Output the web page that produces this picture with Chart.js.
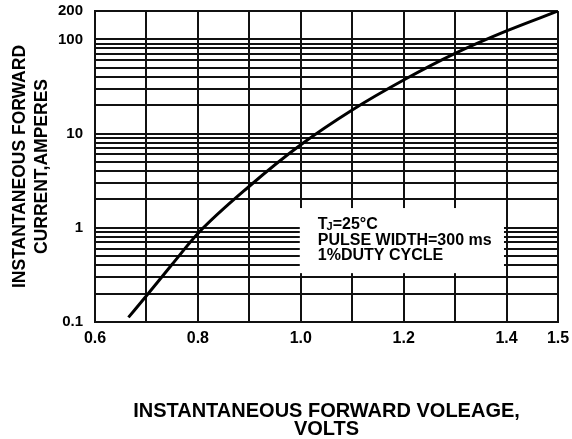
<!DOCTYPE html>
<html>
<head>
<meta charset="utf-8">
<style>
  html, body { margin: 0; padding: 0; background: #fff; }
  #wrap { width: 572px; height: 439px; }
</style>
<script src="https://cdn.jsdelivr.net/npm/chart.js@4/dist/chart.umd.min.js"></script>
</head>
<body>
<div id="wrap"><canvas id="c" width="572" height="439"></canvas></div>
<script>
// Forward characteristic: voltage (V) vs instantaneous current (A)
const voltage = [0.665, 0.7, 0.75, 0.8, 0.9, 1.0, 1.1, 1.2, 1.3, 1.4, 1.5];
const current = [0.112, 0.19, 0.41, 0.87, 2.76, 7.6, 17.8, 37, 71, 123, 200];

// Grid positions and the tick labels shown on each axis
const xGrid = [0.6, 0.7, 0.8, 0.9, 1.0, 1.1, 1.2, 1.3, 1.4, 1.5];
const xLabels = ['0.6', '0.8', '1.0', '1.2', '1.4', '1.5'];
const yGrid = [0.1, 0.2, 0.3, 0.4, 0.5, 0.6, 0.7, 0.8, 0.9,
               1, 2, 3, 4, 5, 6, 7, 8, 9,
               10, 20, 30, 40, 50, 60, 70, 80, 90,
               100, 200];
const yLabels = ['0.1', '1', '10', '100', '200'];

// Test conditions printed inside the plot
const noteLines = ['=25\u00B0C', 'PULSE WIDTH=300 ms', '1%DUTY CYCLE'];

const FONT = '"Liberation Sans", Arial, Helvetica, sans-serif';

function labelFor(list, value) {
  const hit = list.find(s => Math.abs(parseFloat(s) - value) < 1e-9);
  return hit === undefined ? '' : hit;
}

const notePlugin = {
  id: 'conditionsNote',
  afterDatasetsDraw(chart) {
    const { ctx, scales } = chart;
    const x0 = scales.x.getPixelForValue(1.0) - 1;
    const x1 = scales.x.getPixelForValue(1.395);
    const y0 = scales.y.getPixelForValue(1.62);
    const y1 = scales.y.getPixelForValue(0.33);
    ctx.save();
    ctx.fillStyle = '#ffffff';
    ctx.fillRect(x0, y0, x1 - x0, y1 - y0);
    ctx.fillStyle = '#000';
    ctx.textBaseline = 'middle';
    ctx.textAlign = 'left';
    const tx = x0 + 18;
    let ty = y0 + 17;
    // T with subscript J
    ctx.font = 'bold 16px ' + FONT;
    ctx.fillText('T', tx, ty);
    const tw = ctx.measureText('T').width;
    ctx.font = 'bold 11px ' + FONT;
    ctx.fillText('J', tx + tw - 1, ty + 2);
    const jw = ctx.measureText('J').width;
    ctx.font = 'bold 16px ' + FONT;
    ctx.fillText(noteLines[0], tx + tw + jw - 1, ty);
    ty += 15.5;
    ctx.fillText(noteLines[1], tx, ty);
    ty += 15.5;
    ctx.fillText(noteLines[2], tx, ty);
    ctx.restore();
  }
};

new Chart(document.getElementById('c'), {
  type: 'scatter',
  data: {
    datasets: [{
      data: voltage.map((v, i) => ({ x: v, y: current[i] })),
      showLine: true,
      borderColor: '#000',
      borderWidth: 3,
      pointRadius: 0,
      cubicInterpolationMode: 'monotone',
      fill: false
    }]
  },
  options: {
    responsive: false,
    animation: false,
    devicePixelRatio: 1,
    layout: { padding: { left: 9, right: 14, top: 11, bottom: 1 } },
    plugins: { legend: { display: false }, tooltip: { enabled: false } },
    scales: {
      x: {
        type: 'linear',
        min: 0.6,
        max: 1.5,
        afterBuildTicks(scale) { scale.ticks = xGrid.map(v => ({ value: v })); },
        afterFit(scale) {
          scale.height = 116;
          scale.paddingLeft = 0;
          scale.paddingRight = 0;
        },
        grid: { color: '#111', lineWidth: 2, drawTicks: false },
        border: { display: true, color: '#111', width: 2 },
        ticks: {
          autoSkip: false,
          maxRotation: 0,
          padding: 7,
          color: '#000',
          font: { family: FONT, size: 16, weight: 'bold' },
          callback: (value) => labelFor(xLabels, value)
        },
        title: {
          display: true,
          text: ['INSTANTANEOUS FORWARD VOLEAGE,', 'VOLTS'],
          color: '#000',
          font: { family: FONT, size: 20, weight: 'bold', lineHeight: 0.9 },
          padding: { top: 0, bottom: 0 }
        }
      },
      y: {
        type: 'logarithmic',
        min: 0.1,
        max: 200,
        afterBuildTicks(scale) { scale.ticks = yGrid.map(v => ({ value: v })); },
        afterFit(scale) {
          scale.width = 86;
          scale.paddingTop = 0;
          scale.paddingBottom = 0;
        },
        grid: { color: '#111', lineWidth: 2, drawTicks: false },
        border: { display: true, color: '#111', width: 2 },
        ticks: {
          autoSkip: false,
          padding: 12,
          color: '#000',
          font: { family: FONT, size: 15, weight: 'bold' },
          callback: (value) => labelFor(yLabels, value)
        },
        title: {
          display: true,
          text: ['INSTANTANEOUS FORWARD', 'CURRENT,AMPERES'],
          color: '#000',
          font: { family: FONT, size: 17.5, weight: 'bold', lineHeight: 1.26 },
          padding: { top: 0, bottom: 0 }
        }
      }
    }
  },
  plugins: [notePlugin]
});
</script>
</body>
</html>
